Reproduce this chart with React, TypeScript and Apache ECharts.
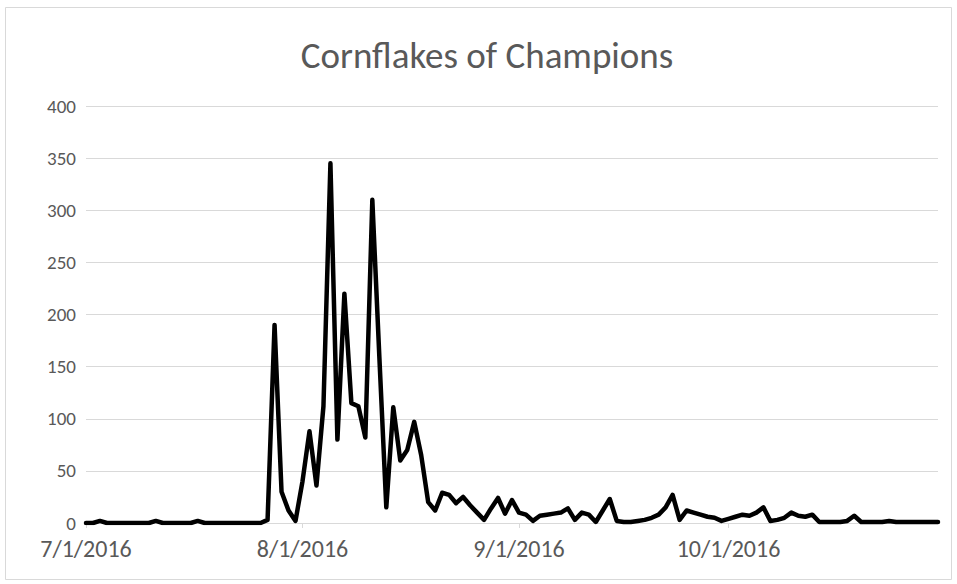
import React, { useEffect, useRef } from "react";
import * as echarts from "echarts";

const titleText = "Cornflakes of Champions";
const startYear = 2016;
const startMonthIndex = 6; // July
const dayCount = 123; // 7/1/2016 .. 10/31/2016

const yMin = 0;
const yMax = 400;
const yStep = 50;

// daily values
const valuesJuly = [
  0, 0, 2, 0, 0, 0, 0, 0, 0, 0, 2, 0, 0, 0, 0, 0, 2, 0, 0, 0, 0, 0, 0, 0, 0, 0,
  3, 190, 30, 12, 2,
];
const valuesAugust = [
  40, 88, 36, 112, 345, 80, 220, 115, 112, 82, 310, 160, 15, 111, 60, 70, 97, 65,
  20, 12, 29, 27, 19, 25, 17, 10, 3, 14, 24, 9, 22,
];
const valuesSeptember = [
  10, 8, 2, 7, 8, 9, 10, 14, 3, 10, 8, 1, 12, 23, 2, 1, 1, 2, 3, 5, 8, 15, 27, 3,
  12, 10, 8, 6, 5, 2,
];
const valuesOctober = [
  4, 6, 8, 7, 10, 15, 2, 3, 5, 10, 7, 6, 8, 1, 1, 1, 1, 2, 7, 1, 1, 1, 1, 2, 1, 1,
  1, 1, 1, 1, 1,
];

function buildDates(): string[] {
  const out: string[] = [];
  for (let i = 0; i < dayCount; i++) {
    const d = new Date(Date.UTC(startYear, startMonthIndex, 1 + i));
    out.push(`${d.getUTCMonth() + 1}/${d.getUTCDate()}/${d.getUTCFullYear()}`);
  }
  return out;
}

const categories = buildDates();
const values = [...valuesJuly, ...valuesAugust, ...valuesSeptember, ...valuesOctober];

const FONT = "Carlito, Calibri, Lato, 'Noto Sans', sans-serif";
const isMonthStart = (_i: number, v: string) => v.split("/")[1] === "1";

export default function App() {
  const ref = useRef<HTMLDivElement>(null);
  useEffect(() => {
    if (!ref.current) return;
    const chart = echarts.init(ref.current, undefined, { renderer: "svg" });
    chart.setOption({
      animation: false,
      backgroundColor: "#ffffff",
      title: {
        text: titleText,
        left: 482,
        textAlign: "center",
        top: 32,
        textStyle: {
          fontFamily: FONT,
          fontSize: 37,
          fontWeight: "normal",
          color: "#595959",
        },
      },
      graphic: [
        {
          type: "rect",
          shape: { x: 5.5, y: 7.5, width: 946, height: 572 },
          style: { fill: "none", stroke: "#d9d9d9", lineWidth: 1 },
          silent: true,
        },
      ],
      grid: { left: 86, right: 19, top: 106, bottom: 61, containLabel: false },
      xAxis: {
        type: "category",
        data: categories,
        boundaryGap: false,
        axisLine: { show: true, lineStyle: { color: "#d9d9d9", width: 1 } },
        axisTick: {
          show: true,
          interval: isMonthStart,
          length: 5,
          lineStyle: { color: "#d9d9d9" },
        },
        axisLabel: {
          interval: isMonthStart,
          margin: 13,
          fontFamily: FONT,
          fontSize: 24,
          color: "#595959",
        },
        splitLine: { show: false },
      },
      yAxis: {
        type: "value",
        min: yMin,
        max: yMax,
        interval: yStep,
        axisLine: { show: false },
        axisTick: { show: false },
        axisLabel: {
          margin: 10,
          fontFamily: FONT,
          fontSize: 19,
          color: "#595959",
        },
        splitLine: { show: true, lineStyle: { color: "#d9d9d9", width: 1 } },
      },
      series: [
        {
          type: "line",
          data: values,
          showSymbol: false,
          symbol: "none",
          lineStyle: { color: "#000000", width: 4.5, join: "round", cap: "round" },
          itemStyle: { color: "#000000" },
        },
      ],
    });
    return () => chart.dispose();
  }, []);
  return (
    <div
      ref={ref}
      style={{ position: "absolute", left: 0, top: 0, width: 957, height: 584, background: "#fff" }}
    />
  );
}
